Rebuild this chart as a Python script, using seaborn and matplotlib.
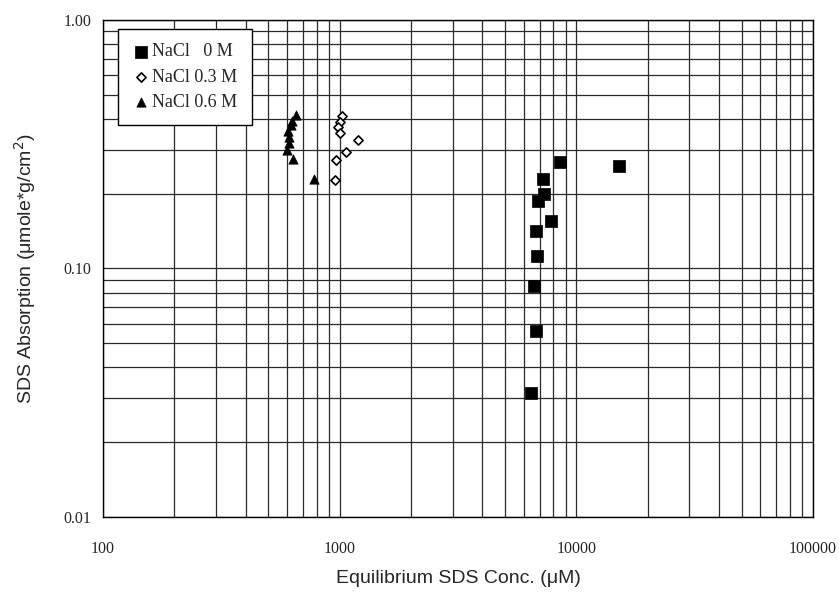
import numpy as np
import pandas as pd
import matplotlib
matplotlib.use("Agg")
import matplotlib.pyplot as plt
import matplotlib.ticker as mticker
import seaborn as sns

# NaCl 0 M
conc_0 = [8540, 7210, 7330, 6870, 7820, 6760, 6830, 6650, 6760, 6440, 15170]
abs_0 = [0.268, 0.229, 0.200, 0.187, 0.155, 0.142, 0.112, 0.085, 0.056, 0.0315, 0.258]
# NaCl 0.3 M
conc_03 = [1020, 1000, 984, 1007, 1194, 1063, 961, 952]
abs_03 = [0.410, 0.389, 0.371, 0.351, 0.328, 0.294, 0.274, 0.228]
# NaCl 0.6 M
conc_06 = [656, 629, 621, 605, 611, 609, 600, 635, 778]
abs_06 = [0.414, 0.393, 0.377, 0.358, 0.338, 0.320, 0.299, 0.277, 0.2285]

x_ticks = [100, 1000, 10000, 100000]
y_ticks = [0.01, 0.10, 1.00]
y_tick_labels = ["0.01", "0.10", "1.00"]

sns.set_style("white")
plt.rcParams['font.family'] = ['Liberation Sans', 'DejaVu Sans']

fig = plt.figure(figsize=(8.39, 5.96), dpi=100)
ax = fig.add_axes([0.1228, 0.1326, 0.8462, 0.8338])

sns.scatterplot(x=conc_0, y=abs_0, ax=ax, marker="s", s=72, color="black",
                edgecolor="black", linewidth=0.5, label="NaCl   0 M", zorder=3)
sns.scatterplot(x=conc_03, y=abs_03, ax=ax, marker="D", s=22, facecolor="white",
                edgecolor="black", linewidth=1.2, label="NaCl 0.3 M", zorder=3)
sns.scatterplot(x=conc_06, y=abs_06, ax=ax, marker="^", s=45, color="black",
                edgecolor="black", linewidth=0.5, label="NaCl 0.6 M", zorder=3)

ax.set_xscale("log")
ax.set_yscale("log")
ax.set_xlim(100, 100000)
ax.set_ylim(0.01, 1.0)

ax.xaxis.set_major_locator(mticker.FixedLocator(x_ticks))
ax.xaxis.set_major_formatter(mticker.FixedFormatter([str(v) for v in x_ticks]))
ax.xaxis.set_minor_locator(mticker.LogLocator(base=10, subs=np.arange(2, 10)))
ax.xaxis.set_minor_formatter(mticker.NullFormatter())
ax.yaxis.set_major_locator(mticker.FixedLocator(y_ticks))
ax.yaxis.set_major_formatter(mticker.FixedFormatter(y_tick_labels))
ax.yaxis.set_minor_locator(mticker.LogLocator(base=10, subs=np.arange(2, 10)))
ax.yaxis.set_minor_formatter(mticker.NullFormatter())

ax.grid(True, which="both", color="#2a2a2a", linewidth=0.9)
ax.set_axisbelow(True)
for sp in ax.spines.values():
    sp.set_color("black")
    sp.set_linewidth(1.0)

ax.tick_params(axis="both", which="major", direction="out", length=5, width=1,
               color="black", labelsize=11.5)
ax.tick_params(axis="x", which="minor", length=0)
ax.tick_params(axis="y", which="minor", direction="out", length=3, width=0.8, color="black")
ax.tick_params(axis="x", pad=12)
for lbl in ax.get_xticklabels() + ax.get_yticklabels():
    lbl.set_family("Liberation Serif")

ax.set_xlabel("Equilibrium SDS Conc. (\u03bcM)", fontsize=14, labelpad=10)
ax.set_ylabel("SDS Absorption (\u03bcmole*g/cm$^2$)", fontsize=14, labelpad=18)

leg = ax.legend(loc="upper left", bbox_to_anchor=(0.008, 1.0), frameon=True,
                fancybox=False, framealpha=1, edgecolor="black", handletextpad=0.1,
                handlelength=1.0, borderpad=0.8, labelspacing=0.45,
                prop={"family": "Liberation Serif", "size": 13})
leg.get_frame().set_linewidth(1.0)

fig.savefig("out.png", dpi=100)
